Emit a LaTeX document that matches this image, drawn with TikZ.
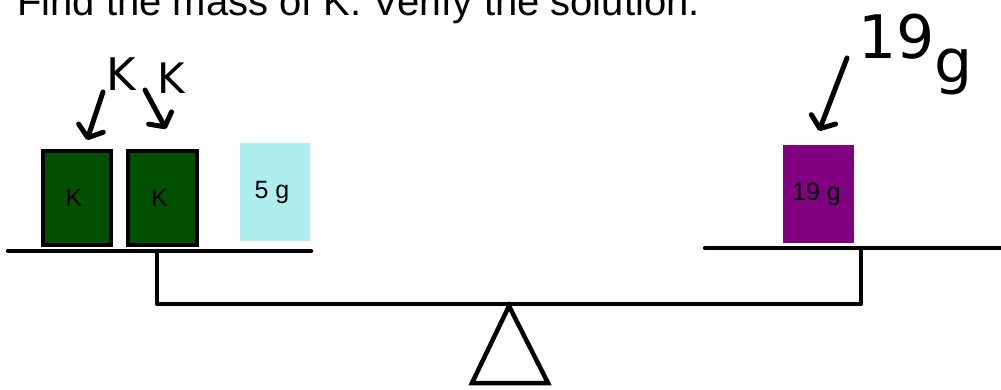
\documentclass[tikz,border=0pt]{standalone}
\usepackage{fontspec}
\setmainfont{Liberation Sans}
\newfontfamily\handfont{DejaVu Sans}
\usetikzlibrary{arrows.meta}
\definecolor{kgreen}{RGB}{0,80,0}
\definecolor{palecyan}{RGB}{175,238,238}
\definecolor{wpurple}{RGB}{128,0,128}
\begin{document}
\begin{tikzpicture}[x=1pt,y=-1pt,
  beam/.style={line width=4.5pt, line cap=round, line join=round},
  kbox/.style={draw=black, line width=4pt, fill=kgreen, minimum width=68pt, minimum height=94pt, inner sep=0pt, font=\fontsize{25}{30}\selectfont},
  wbox/.style={inner sep=0pt, font=\fontsize{25}{30}\selectfont},
  hand/.style={inner sep=0pt, font=\handfont},
  harrow/.style={line width=5pt, line cap=round, -{Straight Barb[length=10pt,width=26pt,round]}}
]
\useasboundingbox (0,0) rectangle (1001,389);
\clip (0,0) rectangle (1001,389);

% title
\node[anchor=base west, inner sep=0pt, font=\fontsize{40}{48}\selectfont] (title) at (17,15) {Find the mass of K. Verify the solution.};

% scale
\coordinate (lpl) at (8,251);
\coordinate (lpr) at (311,251);
\coordinate (lpost) at (157,251);
\coordinate (bl) at (157,304);
\coordinate (br) at (861,304);
\coordinate (rpost) at (861,248);
\coordinate (rpl) at (705,248);
\coordinate (rpr) at (1003,248);
\draw[beam] (lpl) -- (lpr);
\draw[beam] (lpost) -- (bl) -- (br) -- (rpost);
\draw[beam] (rpl) -- (rpr);

\coordinate (apex) at (509,306);
\coordinate (tbl) at (472,383);
\coordinate (tbr) at (548,383);
\draw[line width=4.5pt, line join=miter] (apex) -- (tbr) -- (tbl) -- cycle;

% weights
\node[kbox] (k1) at (77,198) {\hspace*{-6pt}K};
\node[kbox, minimum width=69pt] (k2) at (162.5,198) {\hspace*{-6pt}K};
\node[wbox, fill=palecyan, minimum width=70pt, minimum height=98pt] (w5) at (275,192) {\hspace*{-6pt}5 g};
\node[wbox, fill=wpurple, minimum width=71pt, minimum height=98pt] (w19) at (818.5,194) {\hspace*{-4pt}19 g};

% handwritten annotations
\node[hand, font=\handfont\fontsize{45}{50}\selectfont] (hk1) at (121,74) {K};
\node[hand, font=\handfont\fontsize{42}{50}\selectfont] (hk2) at (171,78) {K};
\node[hand, anchor=base west, font=\handfont\fontsize{60}{66}\selectfont] (h19) at (858,58) {19\raisebox{-24pt}{g}};

\coordinate (a1s) at (103,92);
\coordinate (a1e) at (87,140);
\coordinate (a2s) at (145,90);
\coordinate (a2e) at (166,129);
\coordinate (a3s) at (847,58);
\coordinate (a3e) at (819,131);
\draw[harrow] (a1s) -- (a1e);
\draw[harrow] (a2s) -- (a2e);
\draw[harrow] (a3s) -- (a3e);
\end{tikzpicture}
\end{document}
